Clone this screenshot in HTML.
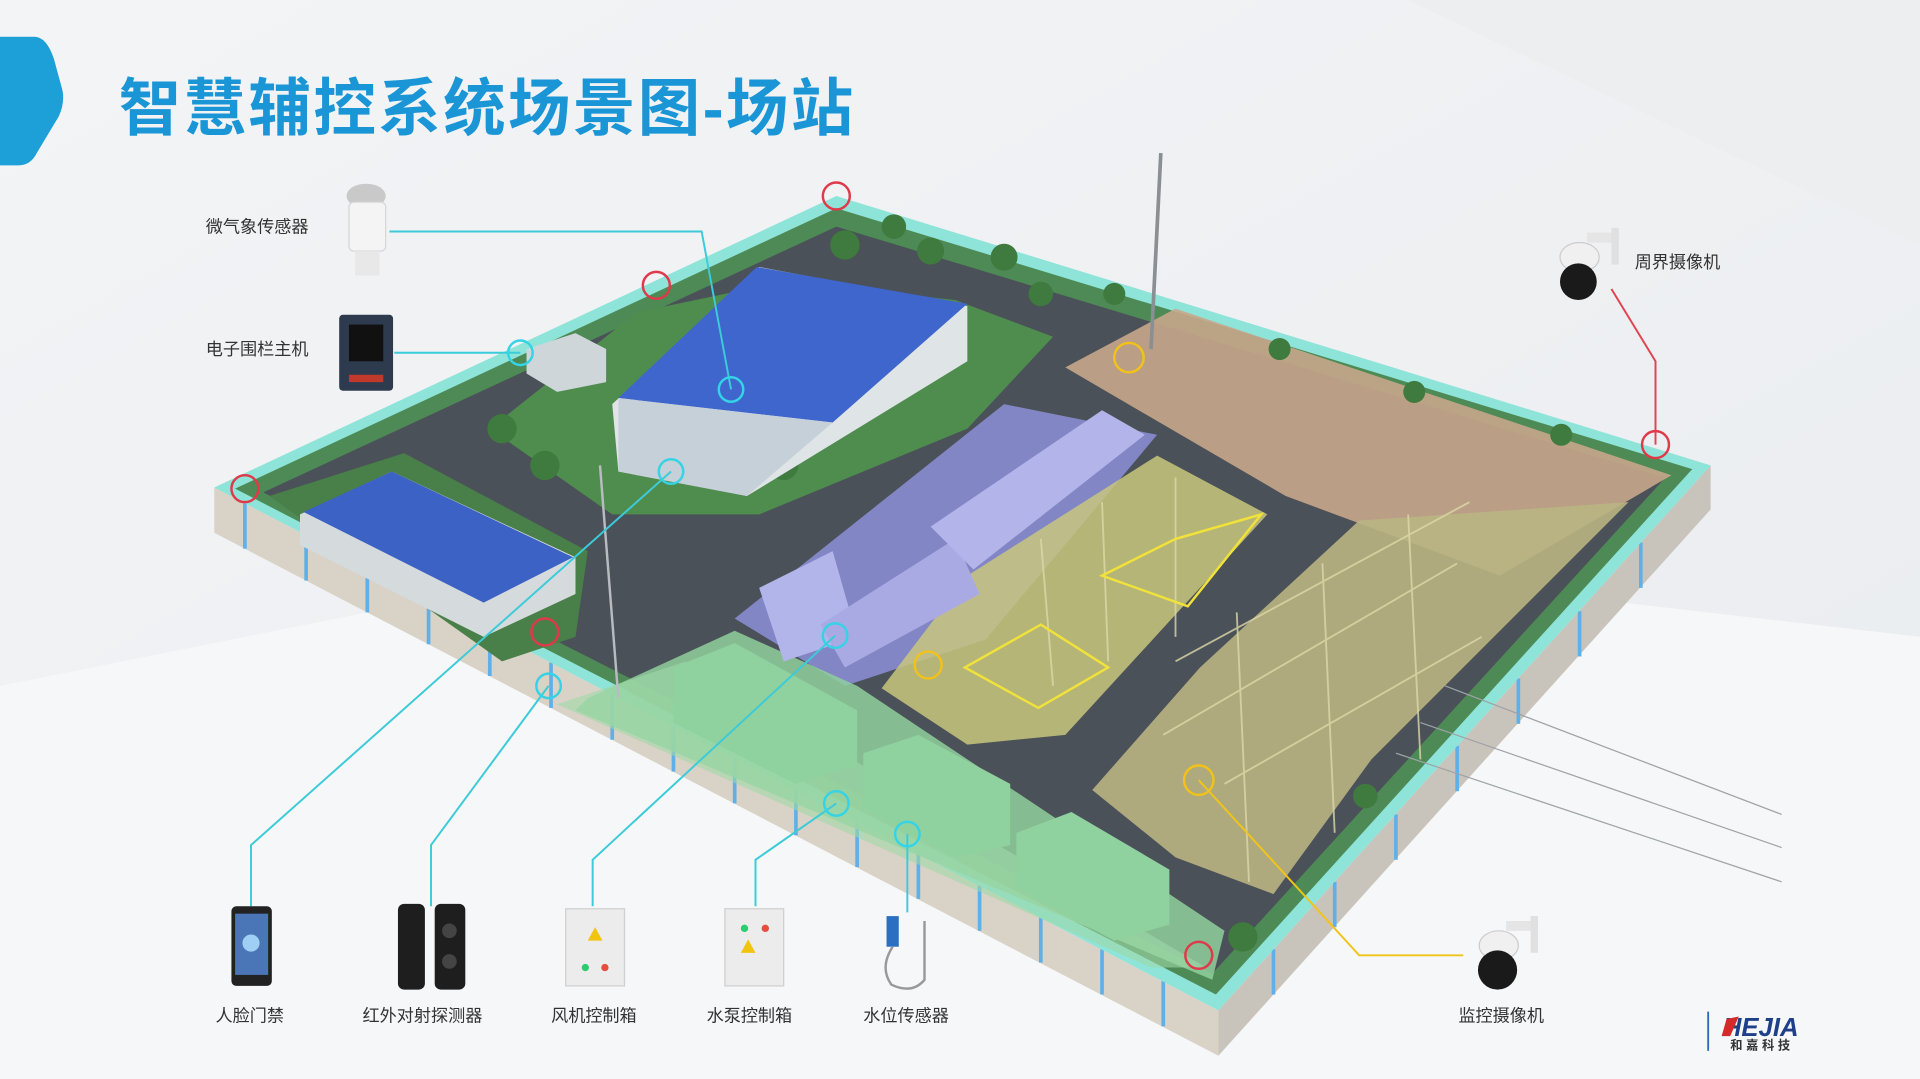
<!DOCTYPE html>
<html><head><meta charset="utf-8"><style>
html,body{margin:0;padding:0;width:1920px;height:1079px;overflow:hidden;background:#eef0f3}
svg{display:block}
text{font-family:"Liberation Sans","Noto Sans CJK SC",sans-serif}
</style></head><body>
<svg width="1920" height="1079" viewBox="0 0 1568 881" preserveAspectRatio="none" xmlns="http://www.w3.org/2000/svg">
<defs>
<linearGradient id="bg" x1="0" y1="0" x2="1" y2="1"><stop offset="0" stop-color="#f3f4f6"/><stop offset="1" stop-color="#e9ecef"/></linearGradient>
</defs>
<rect width="1568" height="881" fill="url(#bg)"/>
<polygon points="0,560 700,420 1568,520 1568,881 0,881" fill="#f6f7f8"/>
<polygon points="1150,0 1568,0 1568,200" fill="#eceef0"/>
<path d="M0,30 L28,30 Q38,30 44,48 L50,70 Q54,82 48,95 L30,125 Q25,135 15,135 L0,135 Z" fill="#1d9fd8"/>
<text x="97" y="106" font-size="51" font-weight="bold" fill="#1a95d6" letter-spacing="2">智慧辅控系统场景图-场站</text>

<polygon points="175,398 995,825 995,862 175,435" fill="#d9d2c6"/>
<polygon points="995,825 1397,380 1397,416 995,862" fill="#c9c4bb"/>
<g stroke="#5fb0e8" stroke-width="3">
<line x1="200" y1="411" x2="200" y2="448"/><line x1="250" y1="437" x2="250" y2="474"/><line x1="300" y1="463" x2="300" y2="500"/><line x1="350" y1="489" x2="350" y2="526"/><line x1="400" y1="515" x2="400" y2="552"/><line x1="450" y1="541" x2="450" y2="578"/><line x1="500" y1="567" x2="500" y2="604"/><line x1="550" y1="593" x2="550" y2="630"/><line x1="600" y1="619" x2="600" y2="656"/><line x1="650" y1="645" x2="650" y2="682"/><line x1="700" y1="671" x2="700" y2="708"/><line x1="750" y1="697" x2="750" y2="734"/><line x1="800" y1="723" x2="800" y2="760"/><line x1="850" y1="749" x2="850" y2="786"/><line x1="900" y1="775" x2="900" y2="812"/><line x1="950" y1="801" x2="950" y2="838"/>
<line x1="1040" y1="775" x2="1040" y2="812"/><line x1="1090" y1="720" x2="1090" y2="757"/><line x1="1140" y1="665" x2="1140" y2="702"/><line x1="1190" y1="609" x2="1190" y2="646"/><line x1="1240" y1="554" x2="1240" y2="591"/><line x1="1290" y1="499" x2="1290" y2="536"/><line x1="1340" y1="443" x2="1340" y2="480"/>
</g>
<polygon points="683,160 1397,380 995,825 175,398" fill="#8ee4d8"/>
<polygon points="683,170 1382,383 993,812 192,399" fill="#4e8a55"/>
<polygon points="683,185 1360,390 990,795 215,402" fill="#4b5158"/>
<polygon points="870,300 960,252 1365,388 1225,470 1050,405" fill="#c8a68c" opacity="0.9"/>
<polygon points="600,505 820,330 945,355 805,522 690,560" fill="#8c8fd8" opacity="0.85"/>
<polygon points="720,562 790,470 945,372 1035,420 870,600 790,608" fill="#c9c77e" opacity="0.85"/>
<polygon points="892,645 980,545 1110,425 1330,410 1120,620 1040,730 960,700" fill="#b9b483" opacity="0.9"/>
<polygon points="480,570 600,515 700,560 1000,760 990,800 470,580" fill="#8fcf9c" opacity="0.85"/>
<polygon points="455,575 560,540 985,790 940,790" fill="#9fd8a8" opacity="0.6"/>
<polygon points="400,350 520,255 640,230 780,245 860,275 790,350 620,420 500,420" fill="#4f8d4f"/>
<polygon points="220,405 330,370 480,450 470,520 410,540" fill="#497f48"/>
<g fill="#3f7a3e">
<circle cx="690" cy="200" r="12"/><circle cx="730" cy="185" r="10"/><circle cx="760" cy="205" r="11"/><circle cx="820" cy="210" r="11"/><circle cx="850" cy="240" r="10"/><circle cx="910" cy="240" r="9"/><circle cx="410" cy="350" r="12"/><circle cx="445" cy="380" r="12"/><circle cx="640" cy="380" r="12"/><circle cx="1045" cy="285" r="9"/><circle cx="1155" cy="320" r="9"/><circle cx="1275" cy="355" r="9"/><circle cx="1115" cy="650" r="10"/><circle cx="1015" cy="765" r="12"/>
</g>
<polygon points="500,330 620,218 790,250 790,295 610,405 505,385" fill="#dfe4e7"/>
<polygon points="505,325 618,218 790,248 680,345" fill="#3f66cc"/>
<polygon points="505,325 680,345 610,405 505,385" fill="#c6d0d8"/>
<polygon points="245,420 320,385 470,455 470,485 395,520 245,445" fill="#d5dadd"/>
<polygon points="248,418 320,385 468,455 395,492" fill="#3c62c6"/>
<polygon points="430,285 470,272 495,285 495,312 455,320 430,305" fill="#cfd6da"/>
<polygon points="620,480 680,450 700,520 640,540" fill="#b2b5ea"/>
<polygon points="670,510 780,440 800,485 690,545" fill="#a9aae4"/>
<polygon points="760,430 900,335 935,355 795,465" fill="#b3b4ea"/>
<polygon points="550,545 600,525 700,580 700,625 650,640 550,590" fill="#8fd19f"/>
<polygon points="705,615 750,600 825,640 825,690 780,700 705,660" fill="#8fd19f"/>
<polygon points="830,680 875,663 955,710 955,755 910,768 830,725" fill="#8fd19f"/>
<g stroke="#dcd9a8" stroke-width="1.5" fill="none" opacity="0.8">
<line x1="850" y1="440" x2="860" y2="560"/><line x1="900" y1="410" x2="905" y2="540"/><line x1="960" y1="390" x2="960" y2="520"/>
<line x1="960" y1="540" x2="1200" y2="410"/><line x1="950" y1="600" x2="1190" y2="460"/><line x1="1000" y1="640" x2="1210" y2="520"/>
<line x1="1010" y1="500" x2="1020" y2="720"/><line x1="1080" y1="460" x2="1090" y2="680"/><line x1="1150" y1="420" x2="1160" y2="620"/>
</g>
<polygon points="788,545 850,510 905,545 848,578" fill="none" stroke="#f1e23a" stroke-width="2"/>
<polygon points="900,470 960,440 1030,420 970,495" fill="none" stroke="#f1e23a" stroke-width="2"/>
<g stroke="#9ea3a8" stroke-width="1" fill="none">
<line x1="1180" y1="560" x2="1455" y2="665"/><line x1="1160" y1="590" x2="1455" y2="692"/><line x1="1140" y1="615" x2="1455" y2="720"/>
</g>
<line x1="948" y1="125" x2="940" y2="285" stroke="#8a8f94" stroke-width="3"/>
<line x1="490" y1="380" x2="505" y2="570" stroke="#b8bcc0" stroke-width="2"/>

<g stroke="#3ccbd9" stroke-width="1.6" fill="none">
<polyline points="318,189 573,189 597,318"/>
<polyline points="322,288 425,288"/>
<polyline points="205,740 205,690 548,385"/>
<polyline points="352,740 352,690 448,560"/>
<polyline points="484,740 484,702 682,519"/>
<polyline points="617,740 617,702 683,656"/>
<polyline points="741,745 741,681"/>
</g>
<polyline points="1316,236 1352,295 1352,363" stroke="#e0454f" stroke-width="1.6" fill="none"/>
<polyline points="979,637 1110,780 1195,780" stroke="#f0c419" stroke-width="1.6" fill="none"/>

<g fill="none" stroke-width="2">
<g stroke="#e0394a"><circle cx="683" cy="160" r="11"/><circle cx="536" cy="233" r="11"/><circle cx="200" cy="399" r="11"/><circle cx="445" cy="516" r="11"/><circle cx="1352" cy="363" r="11"/><circle cx="979" cy="780" r="11"/></g>
<g stroke="#35d3e6"><circle cx="425" cy="288" r="10"/><circle cx="597" cy="318" r="10"/><circle cx="548" cy="385" r="10"/><circle cx="682" cy="519" r="10"/><circle cx="448" cy="560" r="10"/><circle cx="683" cy="656" r="10"/><circle cx="741" cy="681" r="10"/></g>
<g stroke="#f2c21a"><circle cx="922" cy="292" r="12"/><circle cx="758" cy="543" r="11"/><circle cx="979" cy="637" r="12"/></g>
</g>

<ellipse cx="299" cy="160" rx="16" ry="10" fill="#c9c9c9"/>
<rect x="285" y="165" width="30" height="40" rx="4" fill="#f4f4f4" stroke="#d5d5d5"/>
<rect x="290" y="205" width="20" height="20" fill="#e8e8e8"/>
<rect x="277" y="257" width="44" height="62" rx="3" fill="#2e3a4e"/>
<rect x="285" y="265" width="28" height="30" fill="#111"/>
<rect x="285" y="306" width="28" height="6" fill="#c0392b"/>
<g>
<rect x="1296" y="190" width="26" height="8" fill="#e5e5e5"/><rect x="1316" y="186" width="6" height="30" fill="#e0e0e0"/>
<ellipse cx="1290" cy="210" rx="16" ry="12" fill="#f0f0f0" stroke="#ccc"/>
<ellipse cx="1289" cy="230" rx="15" ry="15" fill="#1a1a1a"/>
</g>
<g>
<rect x="1230" y="752" width="26" height="8" fill="#e5e5e5"/><rect x="1250" y="748" width="6" height="30" fill="#e0e0e0"/>
<ellipse cx="1224" cy="772" rx="16" ry="12" fill="#f0f0f0" stroke="#ccc"/>
<ellipse cx="1223" cy="792" rx="16" ry="16" fill="#1a1a1a"/>
</g>
<rect x="189" y="740" width="33" height="65" rx="4" fill="#222"/>
<rect x="192" y="746" width="27" height="50" fill="#4a76b8"/>
<circle cx="205" cy="770" r="7" fill="#9ed0f5"/>
<rect x="325" y="738" width="22" height="70" rx="5" fill="#1e1e1e"/>
<rect x="355" y="738" width="25" height="70" rx="5" fill="#1e1e1e"/>
<circle cx="367" cy="760" r="6" fill="#444"/><circle cx="367" cy="785" r="6" fill="#444"/>
<rect x="462" y="742" width="48" height="63" fill="#ececec" stroke="#cfcfcf"/>
<polygon points="480,768 486,757 492,768" fill="#f1c40f"/>
<circle cx="478" cy="790" r="3" fill="#2ecc71"/><circle cx="494" cy="790" r="3" fill="#e74c3c"/>
<rect x="592" y="742" width="48" height="63" fill="#ececec" stroke="#cfcfcf"/>
<polygon points="605,778 611,767 617,778" fill="#f1c40f"/>
<circle cx="608" cy="758" r="3" fill="#2ecc71"/><circle cx="625" cy="758" r="3" fill="#e74c3c"/>
<rect x="724" y="748" width="10" height="25" fill="#2b6fc2"/>
<path d="M729,773 Q718,790 728,804 Q745,812 755,800 L755,752" fill="none" stroke="#999" stroke-width="2"/>

<g font-size="14" fill="#333">
<text x="168" y="190">微气象传感器</text>
<text x="168" y="290">电子围栏主机</text>
<text x="1335" y="219">周界摄像机</text>
</g>
<g font-size="14" fill="#333" text-anchor="middle">
<text x="204" y="834">人脸门禁</text>
<text x="345" y="834">红外对射探测器</text>
<text x="485" y="834">风机控制箱</text>
<text x="612" y="834">水泵控制箱</text>
<text x="740" y="834">水位传感器</text>
<text x="1226" y="834">监控摄像机</text>
</g>
<line x1="1395" y1="826" x2="1395" y2="858" stroke="#2a6bc1" stroke-width="1.5"/>
<text x="1407" y="846" font-size="21" font-weight="bold" font-style="italic" fill="#1e3f8a">HEJIA</text>
<polygon points="1410,832 1420,830 1413,846 1406,846" fill="#d42a2a"/>
<text x="1413" y="857" font-size="10" font-weight="bold" fill="#333" letter-spacing="3">和嘉科技</text>
</svg>
</body></html>
